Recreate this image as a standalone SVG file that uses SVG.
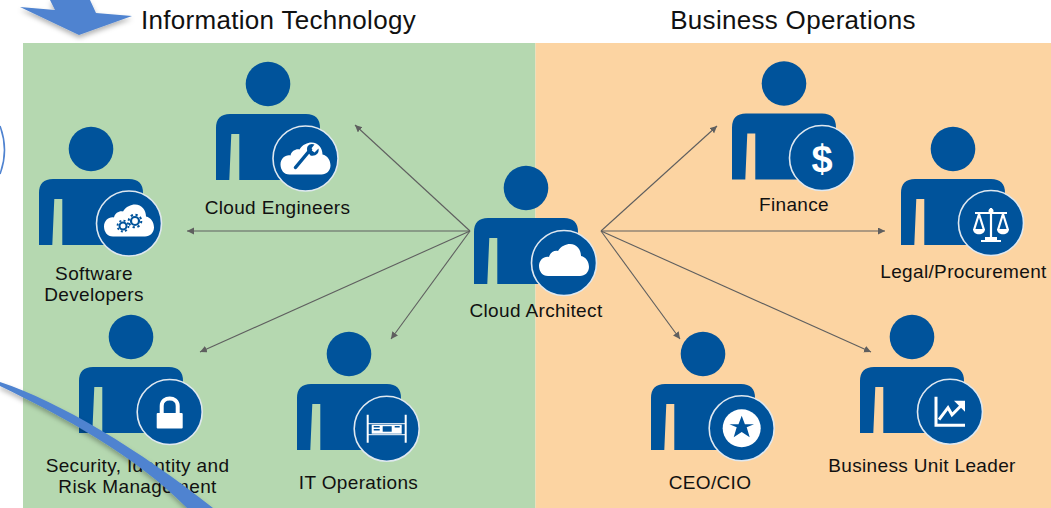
<svg xmlns="http://www.w3.org/2000/svg" width="1051" height="508" viewBox="0 0 1051 508">
<style>
text{font-family:"Liberation Sans",Arial,sans-serif;fill:#111;text-anchor:middle}
.t{font-size:19px;letter-spacing:.35px}
.h{font-size:26px;letter-spacing:.3px}
.p{fill:#00539b}
.b{fill:#00539b;stroke:#dfe8f0;stroke-width:1.6}
.w{fill:#fff}
.ws{fill:none;stroke:#fff}
.c{fill:none;stroke:#5f5f5f;stroke-width:1.1;marker-end:url(#ah)}
.ba{fill:#4f83d0;filter:url(#sh)}
</style>
<defs>
<marker id="ah" markerUnits="userSpaceOnUse" markerWidth="10" markerHeight="8" refX="7" refY="3.500" orient="auto"><path d="M0 0L7 3.500L0 7Z" fill="#5f5f5f"/></marker>
<filter id="sh" x="-20%" y="-20%" width="140%" height="150%"><feDropShadow dx="0" dy="3" stdDeviation="2.500" flood-color="#000" flood-opacity=".3"/></filter>
<symbol id="person" overflow="visible" width="1" height="1"><circle cx="0" cy="0" r="22.300" class="p"/><path class="p" d="M-52 96V44Q-52 30-38 30H38Q52 30 52 44V96H-28.700L-28.700 50H-36.700L-38.700 96Z"/></symbol>
<path id="cloud" class="w" d="M-16 13C-22 13-25 8-25 3C-25-3-20-7-15-6C-14-11-9-13-6-12C-3-17 2-19 6-19C13-19 17-13 17-7C22-6 25-1 25 4C25 9 21 13 16 13Z"/>
</defs>
<rect x="23" y="43" width="512.500" height="465" fill="#b5d8b0"/>
<rect x="535.500" y="43" width="515.500" height="465" fill="#fcd4a2"/>
<g id="connectors">
<path class="c" d="M470 231L355 125"/>
<path class="c" d="M470 231L187 231"/>
<path class="c" d="M470 231L200 352"/>
<path class="c" d="M470 231L391 339"/>
<path class="c" d="M601 231L717 126"/>
<path class="c" d="M601 231L885 231"/>
<path class="c" d="M601 231L680 339"/>
<path class="c" d="M601 231L871 352"/>
</g>
<g id="title-it"><text class="h" x="278.500" y="29">Information Technology</text></g>
<g id="title-bo"><text class="h" x="793" y="29">Business Operations</text></g>
<g id="cloud-architect"><use href="#person" x="526" y="188"/><g transform="translate(564 263)"><circle class="b" r="32.500"/><use href="#cloud"/></g><text class="t" x="536" y="317">Cloud Architect</text></g>
<g id="cloud-engineers"><use href="#person" x="268" y="84"/><g transform="translate(305.500 158.500)"><circle class="b" r="32.500"/><use href="#cloud" y="3"/><path d="M-10 9L5-9" stroke="#00539b" stroke-width="3.500" stroke-linecap="round"/><path d="M2-7C0-13 5-16 9-14L5-9L9-6L13-10C14-5 10-2 5-3Z" fill="#00539b"/></g><text class="t" x="277.500" y="214">Cloud Engineers</text></g>
<g id="software-developers"><use href="#person" x="91" y="149"/><g transform="translate(129 223.500)"><circle class="b" r="32.500"/><use href="#cloud"/><g fill="none" stroke="#00539b"><circle cx="-6" cy="2.500" r="3.500" stroke-width="2"/><circle cx="-6" cy="2.500" r="5.500" stroke-width="1.800" stroke-dasharray="2 2.300"/><circle cx="6" cy="-2.500" r="4" stroke-width="2.200"/><circle cx="6" cy="-2.500" r="6.300" stroke-width="2" stroke-dasharray="2.300 2.600"/></g></g><text class="t" x="94" y="280">Software</text><text class="t" x="94" y="301">Developers</text></g>
<g id="security"><use href="#person" x="131" y="337"/><g transform="translate(169.700 412)"><circle class="b" r="32.500"/><rect class="w" x="-13" y="1" width="26" height="15.500" rx="1"/><path class="ws" stroke-width="4" d="M-8 3V-6C-8-16 8-16 8-6V3"/></g><text class="t" x="137.500" y="472">Security, Identity and</text><text class="t" x="137.500" y="493">Risk Management</text></g>
<g id="it-operations"><use href="#person" x="349" y="354"/><g transform="translate(386.700 428.700)"><circle class="b" r="32.500"/><path class="ws" stroke-width="2" d="M-19-14V14M19-14V14"/><rect class="w" x="-15" y="-4" width="30" height="9"/><path class="ws" stroke-width="1" d="M-19-5H19M-19 6H19"/><rect x="-4" y="-2.500" width="9" height="5.500" fill="#00539b"/><path d="M-13-2H-7M-13 1H-7M8-2H13" stroke="#00539b" stroke-width="1.500"/></g><text class="t" x="358.500" y="489">IT Operations</text></g>
<g id="finance"><use href="#person" x="784" y="83.500"/><g transform="translate(822 158)"><circle class="b" r="32.500"/><text x="0" y="14" style="font-size:38px;font-weight:700;fill:#fff;letter-spacing:0">$</text></g><text class="t" x="794" y="211">Finance</text></g>
<g id="legal"><use href="#person" x="953" y="149"/><g transform="translate(991 223)"><circle class="b" r="32.500"/><path class="ws" stroke-width="2.200" d="M0-15V16M-16-10H16M-12-9L-17 7M-12-9L-7 7M12-9L17 7M12-9L7 7"/><path class="w" d="M-18 6H-6C-6 13-18 13-18 6ZM6 6H18C18 13 6 13 6 6ZM-10 17H10V19H-10ZM-6 14H6V17H-6Z"/><circle class="w" cy="-12" r="2.500"/></g><text class="t" x="963.500" y="278">Legal/Procurement</text></g>
<g id="ceo"><use href="#person" x="703" y="354"/><g transform="translate(741.700 428.300)"><circle class="b" r="32.500"/><circle class="w" r="19"/><path fill="#00539b" d="M0-12.500L3.200-4H12.300L5-1L8 9L0 3.800L-8 9L-5-1L-12.300-4H-3.200Z"/></g><text class="t" x="710" y="489">CEO/CIO</text></g>
<g id="business-unit-leader"><use href="#person" x="912" y="337"/><g transform="translate(950 411.700)"><circle class="b" r="32.500"/><path class="ws" stroke-width="3" d="M-14-15V13.500H15"/><path class="ws" stroke-width="3" d="M-11 8L-2-4L2 3L11-6"/><path class="w" d="M4-11H15V0L11.500-3.500L7.500-7.500Z"/></g><text class="t" x="922" y="472">Business Unit Leader</text></g>
<g id="decor">
<path d="M0 126Q9 150 0 174" fill="none" stroke="#4f83d0" stroke-width="1.600"/>
<path class="ba" d="M20 7L55 10L50 0H90L96 13L132 16L79 35Z"/>
<path class="ba" d="M0 382C60 402 140 450 213 508H187C135 455 60 415 0 386Z"/>
</g>
</svg>
